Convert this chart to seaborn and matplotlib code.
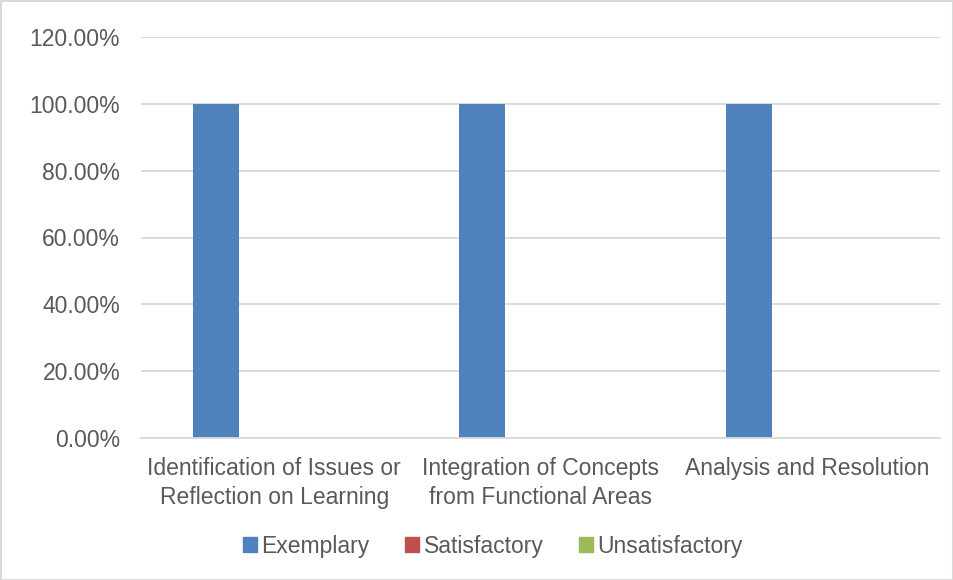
import pandas as pd
import matplotlib.pyplot as plt
import matplotlib.ticker as mtick
from matplotlib.patches import Rectangle
import seaborn as sns

# 数据
categories = ['Identification of Issues or\nReflection on Learning',
              'Integration of Concepts\nfrom Functional Areas',
              'Analysis and Resolution']
series = ['Exemplary', 'Satisfactory', 'Unsatisfactory']
exemplary = [1.0, 1.0, 1.0]
satisfactory = [0.0, 0.0, 0.0]
unsatisfactory = [0.0, 0.0, 0.0]
colors = ['#4f81bd', '#c0504d', '#9bbb59']

rows = []
for name, vals in zip(series, [exemplary, satisfactory, unsatisfactory]):
    for c, v in zip(categories, vals):
        rows.append({'category': c, 'level': name, 'value': v})
df = pd.DataFrame(rows)

sns.set_theme(style='white')
plt.rcParams['font.family'] = ['Liberation Sans', 'DejaVu Sans']
text_color = '#595959'
grid_color = '#d9d9d9'

fig = plt.figure(figsize=(9.54, 5.8), dpi=100)
ax = fig.add_axes([141 / 954, 1 - 438 / 580, (940 - 141) / 954, (438 - 37) / 580])

sns.barplot(data=df, x='category', y='value', hue='level', hue_order=series,
            palette=colors, width=0.654, gap=0.207, ax=ax, saturation=1,
            linewidth=0)

ax.set_ylim(0, 1.2)
ax.set_yticks([0, 0.2, 0.4, 0.6, 0.8, 1.0, 1.2])
ax.yaxis.set_major_formatter(mtick.PercentFormatter(1.0, decimals=2))
ax.set_xlim(-0.5, 2.5)
ax.grid(axis='y', color=grid_color, linewidth=1.3)
ax.set_axisbelow(True)
ax.set_xlabel('')
ax.set_ylabel('')
for s in ['top', 'right', 'left']:
    ax.spines[s].set_visible(False)
ax.spines['bottom'].set_color(grid_color)
ax.spines['bottom'].set_linewidth(1.3)
ax.tick_params(axis='both', length=0, labelsize=16.5, labelcolor=text_color)
ax.tick_params(axis='y', pad=15)
ax.tick_params(axis='x', pad=14)
for lbl in ax.get_xticklabels():
    lbl.set_linespacing(1.3)

# 图例
ax.legend_.remove()
handles = [Rectangle((0, 0), 1, 1, color=c) for c in colors]
fig.legend(handles, series, loc='center', bbox_to_anchor=(493 / 954, 1 - 546 / 580),
           ncol=3, frameon=False, fontsize=16.5, labelcolor=text_color,
           handlelength=0.6, handleheight=0.6, handletextpad=0.2, columnspacing=1.55)

# 外框
fig.patches.append(Rectangle((0.5 / 954, 0.5 / 580), 1 - 1.5 / 954, 1 - 1.5 / 580,
                             transform=fig.transFigure, fill=False,
                             edgecolor=grid_color, linewidth=1.5))

plt.savefig('out.png', dpi=100)
plt.close()
